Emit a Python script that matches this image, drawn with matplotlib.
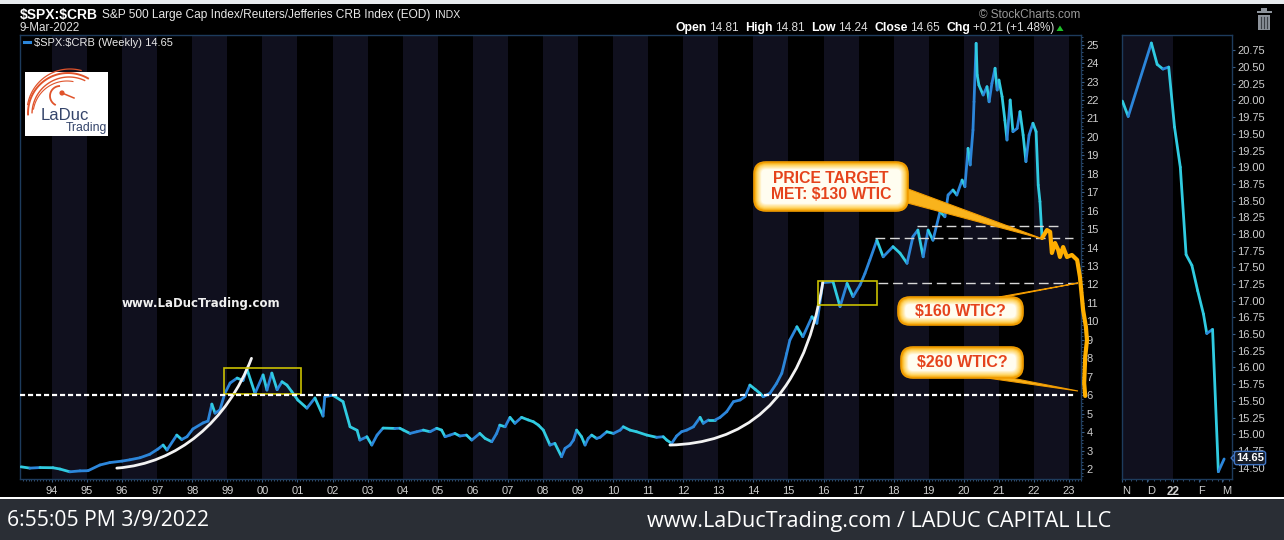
import numpy as np
import matplotlib
matplotlib.use('Agg')
import matplotlib.pyplot as plt
import matplotlib.dates as mdates
from matplotlib.collections import LineCollection
from matplotlib.patches import FancyBboxPatch, Rectangle, Polygon, PathPatch, Circle
from matplotlib.path import Path
from matplotlib.lines import Line2D
from matplotlib.transforms import Affine2D
from matplotlib.colors import to_rgb
from matplotlib.ticker import MultipleLocator
import datetime as dt

plt.rcParams['font.family'] = ['Liberation Sans', 'DejaVu Sans']

# ---------------- data ----------------
main_years = [1993.12, 1993.37, 1993.66, 1994.03, 1994.23, 1994.51, 1994.80, 1995.03, 1995.37, 1995.65,
              1996.00, 1996.22, 1996.51, 1996.79, 1997.02, 1997.17, 1997.28, 1997.56, 1997.70, 1997.85,
              1998.02, 1998.31, 1998.45, 1998.56, 1998.65, 1998.79, 1998.93, 1999.08, 1999.28, 1999.45,
              1999.56, 1999.79, 2000.02, 2000.13, 2000.27, 2000.42, 2000.56, 2000.70, 2000.84, 2001.01,
              2001.27, 2001.50, 2001.73, 2001.78, 2002.01, 2002.30, 2002.50, 2002.70, 2002.78, 2002.98,
              2003.12, 2003.27, 2003.44, 2003.78,
              2003.92, 2004.02, 2004.21, 2004.40, 2004.59, 2004.78, 2004.97, 2005.11, 2005.21, 2005.35,
              2005.49, 2005.63, 2005.82, 2005.97, 2006.20, 2006.35, 2006.54, 2006.68, 2006.77, 2006.92,
              2007.06, 2007.20, 2007.39, 2007.58, 2007.73, 2007.87, 2008.01, 2008.20, 2008.34, 2008.53,
              2008.63, 2008.77, 2008.87, 2008.96, 2009.10, 2009.20, 2009.29, 2009.39, 2009.53, 2009.63,
              2009.82, 2010.01, 2010.20, 2010.29, 2010.48, 2010.67, 2010.96, 2011.24, 2011.43, 2011.53,
              2011.67, 2011.81, 2011.95, 2012.10, 2012.29, 2012.48, 2012.57, 2012.72, 2012.91, 2013.05,
              2013.24, 2013.43, 2013.62, 2013.76, 2013.90, 2014.05, 2014.19, 2014.28, 2014.47, 2014.66,
              2014.81, 2014.95, 2015.04,
              2015.24, 2015.41, 2015.67, 2015.81, 2015.98,
              2016.27, 2016.47, 2016.67, 2016.84, 2017.04, 2017.18, 2017.32, 2017.52, 2017.70, 2017.98,
              2018.18, 2018.38, 2018.55, 2018.69, 2018.84, 2018.98, 2019.12, 2019.32, 2019.46, 2019.55,
              2019.69, 2019.80, 2019.95, 2020.03, 2020.12, 2020.18, 2020.26, 2020.29, 2020.35, 2020.38,
              2020.43, 2020.55, 2020.66, 2020.72, 2020.80, 2020.89, 2020.95, 2021.00, 2021.09, 2021.17,
              2021.23, 2021.32, 2021.40, 2021.52, 2021.60, 2021.69, 2021.77, 2021.86, 2021.97, 2022.06,
              2022.12, 2022.17, 2022.23]
main_values = [2.12, 2.05, 2.08, 2.07, 2.00, 1.85, 1.90, 1.91, 2.22, 2.35,
               2.43, 2.50, 2.61, 2.80, 3.08, 3.30, 3.03, 3.84, 3.60, 3.75,
               4.17, 4.50, 4.60, 5.52, 5.03, 5.20, 6.10, 6.66, 6.93, 6.80,
               7.42, 6.10, 7.10, 6.28, 7.20, 6.30, 6.73, 6.55, 6.19, 5.74,
               5.30, 5.85, 4.87, 5.92, 6.00, 5.65, 4.29, 4.10, 3.57, 3.75,
               3.30, 3.84, 4.22, 4.20,
               4.21, 4.11, 3.93, 4.02, 4.11, 4.02, 4.21, 4.11, 3.75, 3.84,
               3.93, 3.79, 3.84, 3.57, 3.93, 3.66, 3.48, 3.93, 4.38, 4.29,
               4.80, 4.48, 4.80, 4.66, 4.56, 4.38, 4.11, 3.30, 3.39, 2.67,
               3.12, 3.30, 3.57, 4.11, 3.75, 3.30, 3.66, 3.84, 3.66, 3.72,
               4.02, 3.93, 4.11, 4.29, 4.11, 4.02, 3.84, 3.72, 3.75, 3.57,
               3.39, 3.79, 4.02, 4.11, 4.29, 4.80, 4.48, 4.66, 4.66, 4.80,
               5.11, 5.65, 5.74, 5.92, 6.55, 6.32, 6.10, 5.92, 6.10, 6.64,
               7.19, 8.27, 8.99,
               9.71, 9.17, 10.25, 9.90, 12.10,
               12.15, 10.80, 12.06, 11.34, 11.97, 12.60, 13.33, 14.40, 13.50, 14.05,
               13.70, 13.15, 14.60, 14.95, 13.50, 14.95, 14.40, 15.95, 15.67, 16.85,
               17.12, 16.85, 17.66, 17.30, 19.38, 18.48, 20.37, 21.90, 25.07, 23.35,
               22.80, 22.27, 22.72, 21.90, 22.90, 23.72, 22.54, 23.08, 22.18, 20.90,
               19.83, 22.00, 20.28, 20.46, 21.37, 20.10, 18.66, 20.10, 20.74, 20.28,
               17.39, 16.49, 14.50]
year_labels = ['94', '95', '96', '97', '98', '99', '00', '01', '02', '03', '04', '05', '06', '07', '08',
               '09', '10', '11', '12', '13', '14', '15', '16', '17', '18', '19', '20', '21', '22', '23']

detail_dates = ['2021-11-01', '2021-11-08', '2021-12-06', '2021-12-13', '2021-12-20', '2021-12-27',
                '2022-01-03', '2022-01-10', '2022-01-17', '2022-01-24', '2022-01-31', '2022-02-07',
                '2022-02-11', '2022-02-18', '2022-02-25', '2022-03-04']
detail_values = [19.99, 19.76, 20.86, 20.54, 20.47, 20.50, 19.60, 19.00, 17.69, 17.53, 17.15, 16.80,
                 16.51, 16.57, 14.44, 14.63]
detail_tick_dates = ['2021-11-01', '2021-12-01', '2022-01-01', '2022-02-01', '2022-03-01']
detail_tick_labels = ['N', 'D', '22', 'F', 'M']

# annotation drawn by the author (forecast path), in (year, ratio)
forecast_years = [2022.23, 2022.37, 2022.46, 2022.51, 2022.60, 2022.69, 2022.74, 2022.83, 2022.94,
                  2023.08, 2023.23, 2023.31, 2023.40, 2023.48, 2023.51, 2023.46, 2023.43, 2023.46]
forecast_values = [14.52, 14.95, 14.85, 13.71, 14.25, 13.87, 13.49, 14.03, 13.49,
                   13.60, 13.33, 12.41, 10.62, 9.70, 8.99, 8.07, 6.66, 5.96]

# ---------------- style ----------------
W, H = 1284, 540
BAND = '#10101e'
UP = '#2c86da'
DOWN = '#30cbe0'
SPINE = '#1d3b5c'
TICKC = '#3b5f86'
LABC = '#cfcfcf'

fig = plt.figure(figsize=(W / 100, H / 100), dpi=100, facecolor='black')
pix = Affine2D().scale(1 / W, -1 / H).translate(0, 1) + fig.transFigure


def colored_line(axis, x, y, lw=2.0):
    x = np.asarray(x, float)
    y = np.asarray(y, float)
    pts = np.column_stack([x, y])
    segs = np.stack([pts[:-1], pts[1:]], axis=1)
    cols = [UP if b > a else DOWN for a, b in zip(y[:-1], y[1:])]
    lc = LineCollection(segs, colors=cols, linewidths=lw, capstyle='round',
                        joinstyle='round', zorder=3)
    axis.add_collection(lc)


def style_axes(axis):
    axis.set_facecolor('black')
    for sp in axis.spines.values():
        sp.set_color(SPINE)
        sp.set_linewidth(1.0)
    axis.tick_params(which='both', colors=TICKC, labelcolor=LABC, labelsize=8, direction='out')
    axis.tick_params(which='major', length=2.5, width=0.8, pad=1.5)
    axis.tick_params(which='minor', length=1.3, width=0.6)


# ---------------- main axes ----------------
ax = fig.add_axes([20 / W, 1 - 479 / H, 1061 / W, 444 / H])
style_axes(ax)
ax.set_xlim(1993.09, 2023.34)
ax.set_ylim(1.46, 25.52)
for y0 in range(1994, 2024, 2):
    ax.axvspan(y0, y0 + 1, color=BAND, lw=0, zorder=0)
colored_line(ax, main_years, main_values, 2.0)

ax.set_xticks(range(1994, 2024))
ax.set_xticklabels(year_labels)
ax.xaxis.set_minor_locator(MultipleLocator(1 / 12))
ax.yaxis.tick_right()
ax.set_yticks(range(2, 26))
ax.yaxis.set_minor_locator(MultipleLocator(0.2))
ax.tick_params(axis='x', which='major', pad=2.5)


def bez(axis, p0, p1, p2, p3):
    path = Path([p0, p1, p2, p3], [Path.MOVETO, Path.CURVE4, Path.CURVE4, Path.CURVE4])
    axis.add_patch(PathPatch(path, fill=False, ec='#f2f2f2', lw=2.0, zorder=4, capstyle='round'))


bez(ax, (1995.85, 2.05), (1997.6, 2.3), (1999.0, 4.6), (1999.69, 8.0))
bez(ax, (2011.62, 3.3), (2013.6, 3.4), (2015.4, 5.3), (2015.98, 12.13))

# yellow boxes
ax.add_patch(Rectangle((1998.90, 6.07), 2.20, 1.42, fill=False, ec='#c9c000', lw=1.2, zorder=4))
ax.add_patch(Rectangle((2015.84, 10.89), 1.68, 1.30, fill=False, ec='#c9c000', lw=1.2, zorder=4))

# dashed lines
ax.plot([1993.09, 2023.17], [6.0, 6.0], color='white', lw=1.6, dashes=(2.3, 1.3), zorder=4, clip_on=False)
ax.plot([2017.55, 2023.23], [12.1, 12.1], color='#d8d8d8', lw=1.0, dashes=(7, 3.5), zorder=4, clip_on=False)
ax.plot([2017.47, 2023.11], [14.5, 14.5], color='#d8d8d8', lw=1.0, dashes=(7, 3.5), zorder=4)
ax.plot([2018.67, 2022.69], [15.17, 15.17], color='#d8d8d8', lw=1.0, dashes=(7, 3.5), zorder=4)

# orange forecast path
ax.plot(forecast_years, forecast_values, color='#ffae00', lw=3.0, zorder=6, clip_on=False,
        solid_joinstyle='round', solid_capstyle='round')

# ---------------- right detail axes ----------------
ax2 = fig.add_axes([1122 / W, 1 - 479 / H, 110 / W, 444 / H])
style_axes(ax2)
d0 = mdates.date2num(dt.date(2021, 11, 1))
ax2.set_xlim(d0 - 0.5, d0 + 132.5)
ax2.set_ylim(14.33, 20.98)
ax2.axvspan(d0, mdates.date2num(dt.date(2022, 1, 1)), color=BAND, lw=0, zorder=0)
dx = mdates.date2num([dt.date.fromisoformat(s) for s in detail_dates])
colored_line(ax2, dx, detail_values, 2.0)
ax2.yaxis.tick_right()
ax2.set_yticks(np.arange(14.5, 20.76, 0.25))
ax2.set_yticklabels(['%.2f' % v for v in np.arange(14.5, 20.76, 0.25)])
tx = mdates.date2num([dt.date.fromisoformat(s) for s in detail_tick_dates])
ax2.set_xticks(tx)
ax2.set_xticklabels(detail_tick_labels)
ax2.xaxis.set_minor_locator(MultipleLocator(7))
ax2.tick_params(axis='x', which='major', pad=2.5)
for lbl in ax2.get_xticklabels():
    if lbl.get_text() == '22':
        lbl.set_fontweight('bold')
        lbl.set_fontsize(8.5)
    else:
        lbl.set_ha('left')

# last value label
fig.text(1250 / W, 1 - 458 / H, '14.65', color='white', fontsize=8, fontweight='bold',
         ha='center', va='center', zorder=5,
         bbox=dict(boxstyle='round,pad=0.15,rounding_size=0.2', fc='#161c28', ec='#3e72c0', lw=1.0))
fig.add_artist(Polygon([(1231, 458), (1236, 453), (1236, 463)], closed=True, transform=pix,
                       fc='#161c28', ec='#3e72c0', lw=1.0, zorder=5))

# ---------------- annotation bubbles ----------------
def pointer(verts):
    fig.add_artist(Polygon(verts, closed=True, transform=pix, fc='#f9b31c', ec='#f09a00', lw=0.8, zorder=2))


def bubble(x0, y0, x1, y1, lines, fs):
    w, h = x1 - x0, y1 - y0
    r = min(12, h / 2 - 1)
    c_edge = np.array(to_rgb('#f3a000'))
    c_mid = np.array(to_rgb('#ffd25a'))
    c_in = np.array(to_rgb('#fffdf0'))
    n = 9
    for i in range(n):
        f = i / (n - 1)
        if f < 0.35:
            col = c_edge + (c_mid - c_edge) * (f / 0.35)
        else:
            col = c_mid + (c_in - c_mid) * ((f - 0.35) / 0.65)
        ins = i * 0.9
        fig.add_artist(FancyBboxPatch((x0 + ins, y0 + ins), w - 2 * ins, h - 2 * ins,
                                      boxstyle='round,pad=0,rounding_size=%.2f' % max(r - ins, 1),
                                      transform=pix, fc=col, ec='none', zorder=3))
    fig.add_artist(FancyBboxPatch((x0, y0), w, h, boxstyle='round,pad=0,rounding_size=%.2f' % r,
                                  transform=pix, fc='none', ec='#f09c00', lw=1.2, zorder=3.1))
    cx = (x0 + x1) / 2
    cy = (y0 + y1) / 2
    fig.text(cx / W, 1 - cy / H, lines, color='#e5431c', fontsize=fs, fontweight='bold',
             ha='center', va='center', linespacing=1.1, zorder=4)


pointer([(900, 186), (900, 201), (1043, 239)])
pointer([(982, 300), (1010, 296), (1078, 283)])
pointer([(966, 375), (996, 375), (1078, 391)])
bubble(754, 162, 908, 211, 'PRICE TARGET\nMET: \\$130 WTIC', 11.3)
bubble(898, 297, 1023, 325, '\\$160 WTIC?', 11.5)
bubble(901, 347, 1023, 378, '\\$260 WTIC?', 11.5)

# ---------------- header texts ----------------
renderer = fig.canvas.get_renderer()


def seq_text(x, y, parts):
    for s, kw, gap in parts:
        t = fig.text(x / W, 1 - y / H, s, ha='left', va='center', **kw)
        bb = t.get_window_extent(renderer=renderer)
        x += bb.width + gap
    return x


seq_text(20, 15, [('\\$SPX:\\$CRB', dict(color='white', fontsize=10, fontweight='bold'), 4),
                  ('S&P 500 Large Cap Index/Reuters/Jefferies CRB Index (EOD)',
                   dict(color='#e8e8e8', fontsize=8.6), 5),
                  ('INDX', dict(color='#e8e8e8', fontsize=7.6), 0)])
fig.text(20 / W, 1 - 28 / H, '9-Mar-2022', color='#e0e0e0', fontsize=8.4, ha='left', va='center')

fig.add_artist(Line2D([24, 30], [42, 42], transform=pix, color=UP, lw=2.2))
fig.text(34 / W, 1 - 42.5 / H, '\\$SPX:\\$CRB (Weekly) 14.65', color='#e8e8e8', fontsize=8,
         ha='left', va='center')

fig.text(1080 / W, 1 - 15 / H, '\u00a9 StockCharts.com', color='#9a9a9a', fontsize=8.5,
         ha='right', va='center')

bold = dict(color='white', fontsize=8.8, fontweight='bold')
reg = dict(color='#dcdcdc', fontsize=8.5)
parts = [('Open', bold, 3), ('14.81', reg, 6), ('High', bold, 3), ('14.81', reg, 6),
         ('Low', bold, 3), ('14.24', reg, 6), ('Close', bold, 3), ('14.65', reg, 6),
         ('Chg', bold, 3), ('+0.21 (+1.48%)', reg, 2)]
xend = seq_text(675, 28, parts)
fig.add_artist(Polygon([(xend, 31), (xend + 7, 31), (xend + 3.5, 25.5)], closed=True, transform=pix,
                       fc='#1fbf2a', ec='none'))

# trash icon
fig.add_artist(Rectangle((1256.5, 10.5), 15, 2.5, transform=pix, fc='#8d939b', ec='none'))
fig.add_artist(Rectangle((1261, 8), 6, 2.5, transform=pix, fc='#8d939b', ec='none'))
fig.add_artist(Rectangle((1258, 14.5), 12, 15.5, transform=pix, fc='#8d939b', ec='none'))
for xx in (1261, 1264, 1267):
    fig.add_artist(Line2D([xx, xx], [16.5, 28], transform=pix, color='#3c4046', lw=0.9))

# ---------------- logo ----------------
fig.add_artist(Rectangle((25, 72), 83, 64, transform=pix, fc='white', ec='none', zorder=2))
for (cxx, cyy, rr, a1, a2, lw) in [(68, 113, 40, 178, 300, 1.4), (69, 114, 37, 182, 295, 1.0),
                                   (70, 112, 43, 190, 285, 0.9), (67, 115, 34, 190, 280, 0.8)]:
    th = np.radians(np.linspace(a1, a2, 40))
    fig.add_artist(Line2D(cxx + rr * np.cos(th), cyy + rr * np.sin(th), transform=pix,
                          color='#e0532b', lw=lw, zorder=3))
th = np.radians(np.linspace(120, 265, 30))
fig.add_artist(Line2D(60 + 10 * np.cos(th), 96 + 10 * np.sin(th), transform=pix,
                      color='#e0532b', lw=1.3, zorder=3))
fig.add_artist(Circle((62, 93), 2.6, transform=pix, fc='#e0532b', ec='none', zorder=3))
fig.add_artist(Line2D([62, 74], [93, 98], transform=pix, color='#e0532b', lw=1.1, zorder=3))
fig.text(41 / W, 1 - 115 / H, 'LaDuc', color='#34446a', fontsize=12, ha='left', va='center', zorder=4)
fig.text(107 / W, 1 - 128 / H, 'Trading', color='#34446a', fontsize=8.8, ha='right', va='center', zorder=4)

fig.text(122 / W, 1 - 303 / H, 'www.LaDucTrading.com', color='#f0f0f0', fontsize=8.5,
         fontweight='bold', family='DejaVu Sans', ha='left', va='center')

# ---------------- frame bars ----------------
fig.add_artist(Rectangle((0, 0), W, 4, transform=pix, fc='#e8ebee', ec='none'))
fig.add_artist(Rectangle((0, 496.5), W, 2.3, transform=pix, fc='white', ec='none'))
fig.add_artist(Rectangle((0, 498.8), W, 42, transform=pix, fc='#2a2e35', ec='none'))
fig.text(7 / W, 1 - 521 / H, '6:55:05 PM 3/9/2022', color='white', fontsize=15.2,
         family='Open Sans', ha='left', va='center')
fig.text(879 / W, 1 - 521 / H, 'www.LaDucTrading.com / LADUC CAPITAL LLC', color='white',
         fontsize=15.6, family='Open Sans', ha='center', va='center')

fig.savefig('out.png', dpi=100, facecolor='black')
